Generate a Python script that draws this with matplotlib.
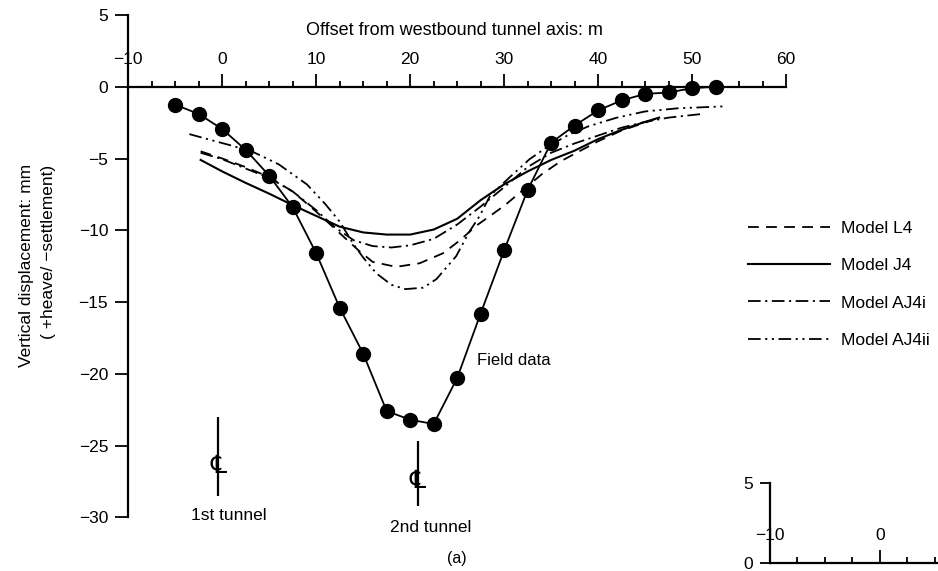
import matplotlib.pyplot as plt
from matplotlib.ticker import MultipleLocator

plt.rcParams['font.family'] = ['Liberation Sans', 'DejaVu Sans']

# Field data (measured settlement trough)
field_x = [-5, -2.5, 0, 2.5, 5, 7.5, 10, 12.5, 15, 17.5, 20, 22.5, 25, 27.5,
           30, 32.5, 35, 37.5, 40, 42.5, 45, 47.5, 50, 52.5]
field_y = [-1.25, -1.9, -2.95, -4.4, -6.2, -8.4, -11.6, -15.4, -18.6, -22.6,
           -23.2, -23.5, -20.3, -15.8, -11.4, -7.2, -3.9, -2.7, -1.65, -0.95,
           -0.5, -0.4, -0.1, 0.0]

# Model predictions
l4_x = [-2.3, 0, 2.5, 5, 7.5, 10, 12.5, 14.5, 16, 18.5, 21, 23.5, 25.3, 27,
        28.5, 30, 32, 34, 36, 38, 40, 42.5, 45, 46.5]
l4_y = [-4.5, -5.0, -5.6, -6.3, -7.3, -8.7, -10.2, -11.4, -12.2, -12.55, -12.3,
        -11.6, -10.7, -9.7, -9.0, -8.3, -7.2, -6.1, -5.2, -4.5, -3.8, -3.05,
        -2.5, -2.15]

j4_x = [-2.3, 0, 2.5, 5, 7.5, 10, 12.5, 15, 17.5, 20, 22.5, 25, 27.5, 30,
        32.5, 35, 37.5, 40, 42.5, 45, 46.5]
j4_y = [-5.1, -5.9, -6.7, -7.45, -8.25, -9.0, -9.75, -10.15, -10.3, -10.3,
        -9.95, -9.2, -7.9, -6.8, -5.9, -5.1, -4.45, -3.65, -3.0, -2.45, -2.15]

aj4i_x = [-2.3, 0, 2.5, 5, 7.5, 10, 12, 14, 16, 18, 20, 22.5, 25, 27.5, 30,
          32.5, 35, 37.5, 40, 42.5, 45, 47.5, 51]
aj4i_y = [-4.6, -5.05, -5.7, -6.35, -7.3, -8.6, -9.8, -10.7, -11.1, -11.2,
          -11.05, -10.6, -9.6, -8.35, -7.0, -5.6, -4.6, -3.95, -3.4, -2.85,
          -2.45, -2.15, -1.9]

aj4ii_x = [-3.5, -1, 1, 3.3, 6, 9, 11, 12.5, 14, 15, 16.4, 18, 19.5, 21.4,
           22.8, 24.9, 26.3, 27.4, 28.5, 30.6, 32.7, 34.8, 37, 39, 42, 45,
           48.5, 53.3]
aj4ii_y = [-3.3, -3.75, -4.1, -4.55, -5.4, -6.8, -8.2, -9.4, -11.0, -11.9,
           -13.0, -13.8, -14.1, -14.0, -13.4, -11.8, -10.1, -9.0, -7.6, -6.3,
           -5.05, -4.1, -3.3, -2.75, -2.15, -1.72, -1.5, -1.37]

model_labels = ['Model L4', 'Model J4', 'Model AJ4i', 'Model AJ4ii']

# Tunnel centre lines
tunnel_x = [-0.4, 20.8]
tunnel_top = [-23.0, -24.7]
tunnel_bottom = [-28.5, -29.2]
tunnel_sym_y = [-26.45, -27.5]
tunnel_names = ['1st tunnel', '2nd tunnel']
tunnel_name_x = [0.7, 22.2]
tunnel_name_y = [-29.9, -30.7]

x_ticks = [-10, 0, 10, 20, 30, 40, 50, 60]
x_tick_labels = ['\u221210', '0', '10', '20', '30', '40', '50', '60']
y_ticks = [5, 0, -5, -10, -15, -20, -25, -30]
y_tick_labels = ['5', '0', '\u22125', '\u221210', '\u221215', '\u221220',
                 '\u221225', '\u221230']

# part of the next figure on the page (cut off)
inset_x_ticks = [-10, 0]
inset_x_labels = ['\u221210', '0']
inset_y_ticks = [0, 5]
inset_y_labels = ['0', '5']

W, H = 938, 571
fig = plt.figure(figsize=(W / 100, H / 100), dpi=100)
ax = fig.add_axes([128.3 / W, 1 - 517.3 / H, (786 - 128.3) / W, (517.3 - 15) / H])
ax.set_xlim(-10, 60)
ax.set_ylim(-30, 5)

ax.spines['right'].set_visible(False)
ax.spines['bottom'].set_visible(False)
ax.spines['top'].set_position(('data', 0))
ax.spines['top'].set_linewidth(1.6)
ax.spines['left'].set_linewidth(1.6)

ax.xaxis.tick_top()
ax.set_xticks(x_ticks)
ax.set_xticklabels(x_tick_labels)
ax.xaxis.set_minor_locator(MultipleLocator(2.5))
ax.tick_params(axis='x', which='major', direction='out', length=9.5, width=1.3,
               pad=5, labelsize=12.5)
ax.tick_params(axis='x', which='minor', direction='out', length=4.5, width=1.3)
ax.set_yticks(y_ticks)
ax.set_yticklabels(y_tick_labels)
ax.tick_params(axis='y', direction='out', length=9.5, width=1.3, pad=5,
               labelsize=12.5)

# Model curves
l4, = ax.plot(l4_x, l4_y, color='k', lw=1.3, dashes=(6, 4))
j4, = ax.plot(j4_x, j4_y, color='k', lw=1.5)
aj4i, = ax.plot(aj4i_x, aj4i_y, color='k', lw=1.3, dashes=(7, 2.5, 1.2, 2.5))
aj4ii, = ax.plot(aj4ii_x, aj4ii_y, color='k', lw=1.3,
                 dashes=(7, 2.5, 1.2, 2.5, 1.2, 2.5))

# Field data
ax.plot(field_x, field_y, '-o', color='k', lw=1.3, ms=10, clip_on=False)
ax.text(27.1, -19.1, 'Field data', fontsize=12, ha='left', va='center')

ax.legend([l4, j4, aj4i, aj4ii], model_labels, loc='upper left',
          bbox_to_anchor=(748 / W, 1 - 221 / H), bbox_transform=fig.transFigure,
          frameon=False, fontsize=12.5, handlelength=4.7, handletextpad=0.65,
          labelspacing=1.27, borderpad=0, borderaxespad=0)

# Tunnel centre lines
ax.vlines(tunnel_x, tunnel_bottom, tunnel_top, color='k', lw=1.6)
for tx, sy in zip(tunnel_x, tunnel_sym_y):
    ax.text(tx, sy, '\u2104', fontsize=18, ha='center', va='center',
            family=['DejaVu Sans'])
for name, nx, ny in zip(tunnel_names, tunnel_name_x, tunnel_name_y):
    ax.text(nx, ny, name, fontsize=12.5, ha='center', va='center')

ax.text(24.7, 3.9, 'Offset from westbound tunnel axis: m', fontsize=13,
        ha='center', va='center')

fig.text(27 / W, 1 - 265 / H, 'Vertical displacement: mm', rotation=90,
         fontsize=12.5, ha='center', va='center')
fig.text(49 / W, 1 - 252 / H, '( +heave/ \u2212settlement)', rotation=90,
         fontsize=12.5, ha='center', va='center')
fig.text(457 / W, 1 - 559 / H, '(a)', fontsize=11.5, ha='center', va='center')

# Cut-off axes of the next figure
ax2 = fig.add_axes([770 / W, 1 - 563 / H, 168 / W, 80 / H])
ax2.set_xlim(-10, 5.3)
ax2.set_ylim(0, 5)
ax2.patch.set_alpha(0)
ax2.spines['right'].set_visible(False)
ax2.spines['bottom'].set_visible(False)
ax2.spines['top'].set_position(('data', 0))
ax2.spines['top'].set_linewidth(1.6)
ax2.spines['left'].set_linewidth(1.6)
ax2.xaxis.tick_top()
ax2.set_xticks(inset_x_ticks)
ax2.set_xticklabels(inset_x_labels)
ax2.xaxis.set_minor_locator(MultipleLocator(2.5))
ax2.tick_params(axis='x', which='major', direction='out', length=9.5, width=1.3,
                pad=5, labelsize=12.5)
ax2.tick_params(axis='x', which='minor', direction='out', length=4.5, width=1.3)
ax2.set_yticks(inset_y_ticks)
ax2.set_yticklabels(inset_y_labels)
ax2.tick_params(axis='y', direction='out', length=7, width=1.3, pad=5,
                labelsize=12.5)

fig.savefig('out.png', dpi=100)
